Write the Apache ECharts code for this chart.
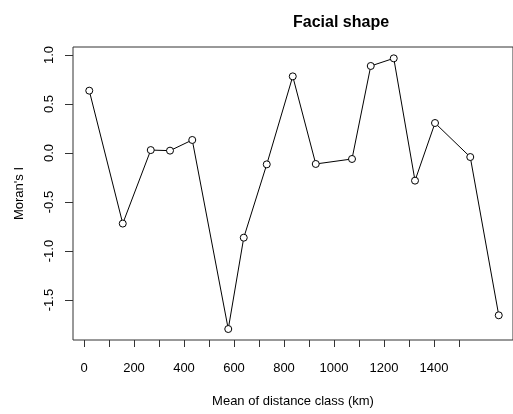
<!DOCTYPE html>
<html>
<head>
<meta charset="utf-8">
<script src="https://cdn.jsdelivr.net/npm/echarts@6/dist/echarts.min.js"></script>
<style>
html,body{margin:0;padding:0;background:#fff;}
#chart{width:513px;height:414px;}
</style>
</head>
<body>
<div id="chart"></div>
<script>
var distances = [21, 155, 267, 344, 433, 577, 639, 731, 835, 927, 1072, 1147, 1239, 1324, 1404, 1545, 1659];
var moransI = [0.636, -0.72, 0.03, 0.024, 0.133, -1.796, -0.864, -0.116, 0.782, -0.112, -0.061, 0.888, 0.966, -0.282, 0.306, -0.041, -1.656];
var xTicks = [0, 100, 200, 300, 400, 500, 600, 700, 800, 900, 1000, 1100, 1200, 1300, 1400, 1500];
var xLabels = [0, 200, 400, 600, 800, 1000, 1200, 1400];
var yTicks = [-1.5, -1.0, -0.5, 0.0, 0.5, 1.0];
var titleText = "Facial shape";
var xTitle = "Mean of distance class (km)";
var yTitle = "Moran's I";

var font = "Liberation Sans, Arial, Helvetica, sans-serif";
var chart = echarts.init(document.getElementById('chart'), null, {renderer: 'canvas'});
var pts = distances.map(function (d, i) { return [d, moransI[i]]; });

chart.setOption({
  animation: false,
  backgroundColor: '#ffffff',
  graphic: [{
    type: 'text', left: 293, top: 15,
    style: {text: titleText, x: 0, y: 0, font: 'bold 16px ' + font, fill: '#000', textAlign: 'center', textVerticalAlign: 'middle'}
  }],
  grid: {left: 73, right: 0, top: 47, bottom: 74, show: true, borderColor: '#333', borderWidth: 1, backgroundColor: 'transparent'},
  xAxis: {
    type: 'value', min: -44, max: 1716,
    name: xTitle, nameLocation: 'middle', nameGap: 55,
    nameTextStyle: {fontFamily: font, fontSize: 13, color: '#000'},
    axisLine: {show: false, onZero: false},
    axisTick: {show: true, customValues: xTicks, length: 7, lineStyle: {color: '#333', width: 1}},
    axisLabel: {customValues: xLabels, margin: 22, fontFamily: font, fontSize: 13, color: '#000',
      formatter: function (v) { return String(v); }},
    splitLine: {show: false}
  },
  yAxis: {
    type: 'value', min: -1.908, max: 1.0816,
    name: yTitle, nameLocation: 'middle', nameGap: 47, nameRotate: 90,
    nameTextStyle: {fontFamily: font, fontSize: 13, color: '#000'},
    axisLine: {show: false, onZero: false},
    axisTick: {show: true, customValues: yTicks, length: 8, lineStyle: {color: '#333', width: 1}},
    axisLabel: {customValues: yTicks, rotate: 90, margin: 17, fontFamily: font, fontSize: 13, color: '#000',
      formatter: function (v) { return v.toFixed(1); }},
    splitLine: {show: false}
  },
  series: [{
    type: 'line', data: pts,
    symbol: 'circle', symbolSize: 7,
    lineStyle: {color: '#000', width: 1},
    itemStyle: {color: '#fff', borderColor: '#000', borderWidth: 1},
    emphasis: {disabled: true},
    z: 3
  }]
});
</script>
</body>
</html>
